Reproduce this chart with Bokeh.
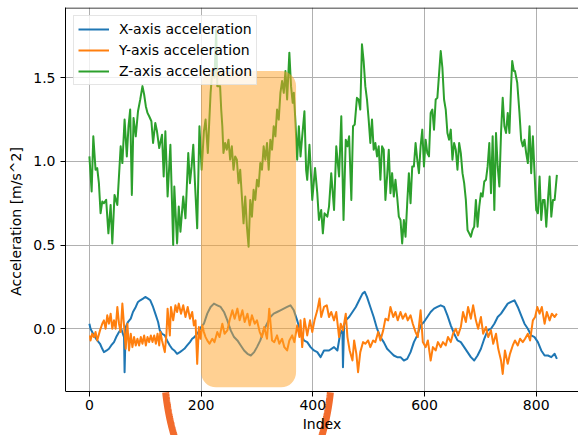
import numpy as np
from bokeh.plotting import figure
from bokeh.models import (Range1d, FixedTicker, PrintfTickFormatter, BoxAnnotation,
                          Legend, LegendItem, Span)
from bokeh.embed import file_html
from bokeh.resources import INLINE

# ---------------- data ----------------
x_idx = [0, 2, 5, 8, 14, 19, 23, 26, 31, 35, 39, 44, 48, 53, 57, 62, 63, 65, 69, 74, 78, 83, 87, 91, 96,
         100, 105, 109, 114, 118, 123, 126, 130, 135, 139, 144, 148, 152, 157, 162, 166, 170, 175, 180, 184,
         188, 195, 200, 205, 211, 217, 223, 229, 235, 241, 247, 253, 259, 265, 271, 277, 283, 289, 295, 300,
         306, 312, 318, 324, 330, 336, 342, 348, 354, 360, 366, 372, 378, 384, 390, 396, 402, 408, 414, 420,
         429, 438, 444, 449, 453, 454, 456, 459, 465, 471, 477, 483, 489, 493, 497, 503, 509, 515, 521, 527,
         533, 539, 545, 551, 557, 563, 569, 575, 581, 587, 593, 599, 605, 611, 617, 623, 629, 635, 641, 647,
         653, 659, 665, 671, 677, 683, 689, 695, 701, 707, 713, 719, 725, 731, 737, 743, 749, 755, 761, 767,
         773, 779, 785, 791, 797, 803, 809, 815, 821, 827, 833, 837]
x_acc = [0.03, 0.00, -0.02, -0.04, -0.07, -0.09, -0.12, -0.14, -0.13, -0.12, -0.10, -0.08, -0.05, -0.02, 0.00,
         -0.05, -0.26, 0.01, 0.04, 0.06, 0.10, 0.13, 0.16, 0.17, 0.18,
         0.19, 0.18, 0.17, 0.13, 0.09, 0.04, -0.01, -0.03, -0.04, -0.07, -0.10, -0.12, -0.13, -0.15, -0.14,
         -0.13, -0.12, -0.10, -0.08, -0.06,
         -0.05, -0.02, 0.01, 0.03, 0.09, 0.13, 0.15, 0.14, 0.13, 0.10, 0.05, -0.01, -0.05, -0.07, -0.10, -0.13,
         -0.15, -0.16, -0.14, -0.11,
         -0.07, -0.01, 0.03, 0.07, 0.09, 0.10, 0.11, 0.12, 0.13, 0.14, 0.11, 0.05, -0.02, -0.07, -0.08, -0.11,
         -0.13, -0.14, -0.17, -0.13,
         -0.13, -0.11, -0.13, -0.03, -0.01, -0.23, 0.02, 0.05, 0.07, 0.10, 0.13, 0.17, 0.21, 0.22, 0.19, 0.13,
         0.07, 0.00, -0.05, -0.08,
         -0.12, -0.14, -0.16, -0.17, -0.17, -0.19, -0.18, -0.14, -0.08, -0.04, 0.02, 0.04, 0.07, 0.10, 0.12,
         0.13, 0.14, 0.13, 0.08, 0.02,
         -0.03, -0.07, -0.08, -0.11, -0.14, -0.17, -0.19, -0.16, -0.12, -0.06, -0.01, 0.00, 0.03, 0.07, 0.09,
         0.12, 0.15, 0.16, 0.17, 0.13,
         0.08, 0.03, 0.00, -0.04, -0.05, -0.08, -0.13, -0.16, -0.16, -0.17, -0.15, -0.18]

y_idx = [1, 2, 5, 8, 11, 14, 19, 23, 26, 29, 32, 35, 38, 41, 44, 47, 50, 53, 56, 59, 62, 65, 68, 71, 74, 77,
         80, 83, 86, 89, 92, 95, 98, 101, 104, 107, 110, 113, 116, 119, 122, 125, 127, 130, 135, 138, 140,
         144, 146, 150, 154, 157, 160, 164, 168, 172, 176, 180, 184, 187, 190, 193, 196, 199, 202, 205, 208,
         211, 215, 220, 224, 229, 233, 238, 242, 247, 251, 256, 260, 265, 269, 274, 278, 283, 287, 291, 296,
         300, 305, 309, 313, 318, 322, 327, 331, 336, 340, 345, 349, 354, 358, 363, 367, 372, 376, 378, 381,
         385, 390, 395, 399, 403, 408, 412, 415, 420, 425, 429, 433, 438, 442, 447, 450, 454, 459, 462, 466,
         471, 474, 478, 481, 485, 490, 494, 499, 503, 508, 512, 517, 521, 526, 530, 535, 539, 544, 548, 552,
         557, 561, 566, 570, 575, 579, 584, 588, 593, 597, 602, 606, 611, 615, 620, 624, 629, 633, 638, 642,
         647, 651, 656, 660, 665, 669, 674, 678, 683, 687, 692, 696, 701, 705, 710, 714, 719, 723, 728, 732,
         737, 740, 744, 749, 753, 758, 762, 767, 771, 776, 780, 785, 789, 794, 798, 802, 806, 810, 815, 819,
         824, 828, 833, 837]
y_acc = [-0.04, -0.07, -0.03, -0.05, -0.02, -0.07, -0.01, 0.03, 0.05, 0.00, 0.08, 0.03, 0.09, 0.00, 0.05,
         0.00, 0.13, 0.03, -0.02, 0.15, 0.02, -0.12, 0.03, -0.13, -0.03, -0.11,
         -0.05, -0.10, -0.06, -0.10, -0.05, -0.09, -0.04, -0.10, -0.05, -0.08, -0.04, -0.08, -0.04, -0.09,
         -0.03, -0.10, -0.02, -0.07, -0.14, -0.03, 0.12,
         -0.04, 0.13, 0.05, 0.14, 0.10, 0.15, 0.09, 0.14, 0.07, 0.13, 0.06, 0.10, 0.02, 0.05, -0.21, 0.01,
         -0.06, 0.02, -0.02, -0.05,
         -0.07, -0.09, -0.06, -0.08, -0.02, -0.05, 0.03, -0.03, -0.01, 0.05, 0.11, 0.06, 0.12, 0.05, 0.11,
         0.04, 0.09, 0.02, 0.08, 0.03,
         0.05, -0.02, -0.05, 0.01, -0.06, 0.12, -0.07, -0.08, -0.04, -0.09, -0.06, -0.11, -0.13, -0.07, -0.04,
         -0.08, 0.02, -0.05, 0.05, -0.11,
         0.06, -0.04, 0.05, -0.02, 0.05, 0.11, 0.18, 0.07, 0.13, 0.14, 0.07, 0.10, 0.05, 0.10, -0.05, 0.03,
         -0.01, 0.09, -0.05, -0.13,
         -0.19, -0.07, -0.15, -0.26, -0.14, -0.08, -0.09, -0.07, -0.11, -0.07, -0.08, -0.02, -0.07, -0.01,
         0.06, 0.05, 0.13, 0.07, 0.10, 0.05,
         0.10, 0.06, 0.09, 0.05, 0.08, 0.03, -0.02, -0.05, 0.11, -0.08, -0.11, -0.07, -0.19, -0.11, -0.13,
         -0.08, -0.11, -0.08, -0.10, -0.05,
         -0.08, -0.03, 0.00, -0.04, 0.01, 0.10, 0.04, 0.13, 0.06, 0.14, 0.05, 0.00, 0.07, -0.03, 0.01, -0.05,
         -0.01, -0.09, -0.03, -0.12,
         -0.19, -0.27, -0.13, -0.21, -0.15, -0.10, -0.07, -0.10, -0.06, -0.08, -0.06, -0.03, -0.07, 0.05, 0.07,
         0.13, 0.09, 0.13, 0.03, 0.10,
         0.05, 0.09, 0.07, 0.09]

z_idx = [0, 4, 7, 11, 14, 17, 20, 23, 26, 30, 34, 38, 41, 45, 50, 56, 59, 63, 67, 70, 73, 76, 79, 83, 87,
         91, 95, 98, 101, 104, 107, 111, 114, 118, 121, 125, 130, 133, 136, 140, 145, 150, 152, 157, 160,
         163, 168, 172, 177, 180, 183, 186, 189, 193, 197, 201, 205, 208, 212, 217, 220, 224, 227, 229, 234,
         236, 238, 240, 243, 246, 249, 252, 255, 258, 261, 264, 267, 270, 273, 276, 279, 282, 285, 288, 291,
         294, 297, 300, 303, 306, 309, 312, 315, 318, 321, 324, 327, 330, 333, 336, 339, 342, 345, 348, 351,
         354, 358, 361, 364, 366, 369, 372, 375, 378, 381, 385, 388, 390, 394, 399, 404, 408, 411, 415, 418,
         421, 426, 429, 433, 438, 442, 447, 451, 455, 459, 462, 465, 469, 472, 475, 479, 482, 485, 488, 491,
         494, 497, 500, 503, 506, 509, 512, 515, 518, 521, 524, 527, 530, 533, 536, 539, 542, 545, 548, 551,
         554, 557, 560, 563, 566, 569, 572, 575, 578, 581, 584, 587, 590, 593, 596, 599, 602, 605, 608, 611,
         614, 617, 620, 623, 626, 629, 632, 635, 638, 641, 644, 647, 650, 653, 656, 659, 662, 665, 668, 671,
         674, 677, 680, 683, 686, 689, 692, 695, 698, 701, 704, 707, 710, 713, 716, 719, 722, 725, 728, 731,
         734, 737, 740, 743, 746, 749, 752, 755, 757, 760, 762, 766, 770, 773, 776, 779, 782, 785, 788, 791,
         794, 797, 800, 803, 806, 809, 812, 815, 818, 821, 824, 827, 830, 833, 837]
z_acc = [1.03, 0.82, 1.15, 0.95, 0.96, 0.87, 0.69, 0.76, 0.75, 0.77, 0.57, 0.74, 0.51, 0.80, 0.74, 1.09,
         0.99, 1.25, 1.03, 1.21, 1.31, 0.80, 1.26, 1.15, 1.30,
         1.37, 1.45, 1.40, 1.33, 1.29, 1.27, 1.24, 1.11, 1.23, 1.18, 1.08, 1.16, 0.91, 1.18, 0.79, 1.10, 0.50,
         0.85, 0.51, 0.73,
         0.58, 0.79, 0.66, 1.05, 0.87, 0.97, 1.10, 0.87, 0.60, 1.21, 0.95, 1.18, 1.25, 1.05, 1.41, 1.54, 1.50,
         1.79, 1.45, 1.45,
         1.31, 1.21, 1.05, 1.11, 1.07, 1.13, 1.01, 1.09, 0.95, 1.03, 1.01, 0.87, 0.95, 0.79, 0.63, 0.79, 0.61,
         0.49, 0.77, 0.67,
         0.83, 0.77, 0.89, 0.85, 0.99, 0.95, 1.09, 1.01, 1.11, 0.95, 1.13, 1.07, 1.21, 1.15, 1.31, 1.25, 1.41,
         1.48, 1.41, 1.54,
         1.37, 1.65, 1.45, 1.35, 1.41, 1.23, 1.01, 1.21, 1.03, 1.15, 1.30, 0.95, 0.89, 1.10, 0.77, 0.96, 0.81,
         0.65, 0.71, 0.57,
         0.69, 0.67, 0.73, 0.93, 0.71, 1.09, 0.91, 1.27, 0.65, 1.13, 1.09, 1.15, 0.77, 1.21, 1.22, 1.38, 1.37,
         1.31, 1.70, 1.60,
         1.45, 1.37, 1.25, 1.11, 1.25, 1.07, 1.11, 1.03, 1.09, 0.89, 1.09, 1.07, 0.77, 0.91, 1.07, 0.81, 0.93,
         0.79, 0.89, 0.79,
         0.67, 0.65, 0.51, 0.65, 0.55, 0.75, 0.93, 0.75, 0.97, 0.97, 1.11, 1.01, 0.93, 1.09, 1.19, 0.97, 1.13,
         1.05, 1.03, 1.29,
         1.31, 1.19, 1.37, 1.38, 1.52, 1.66, 1.56, 1.37, 1.31, 1.17, 1.13, 1.19, 1.01, 1.11, 1.07, 0.95, 1.11,
         1.05, 0.93, 0.87,
         0.77, 0.59, 0.57, 0.55, 0.59, 0.61, 0.77, 0.61, 0.73, 0.81, 0.79, 0.88, 0.89, 0.97, 1.11, 0.81, 1.15,
         0.71, 1.17, 0.97,
         0.85, 1.17, 1.38, 1.21, 1.17, 1.29, 1.17, 1.45, 1.60, 1.54, 1.54, 1.47, 1.29, 1.13, 1.09, 1.13, 1.05,
         0.99, 1.21, 0.93,
         1.15, 0.93, 0.71, 0.69, 0.91, 0.65, 0.77, 0.77, 0.61, 0.77, 0.91, 0.67, 0.77, 0.77, 0.92]

series_labels = ["X-axis acceleration", "Y-axis acceleration", "Z-axis acceleration"]
x_ticks = [0, 200, 400, 600, 800]
y_ticks = [0.0, 0.5, 1.0, 1.5]

# axes limits of the data area
x_lo, x_hi = -42.8, 875.7
y_lo, y_hi = -0.375, 1.920
# highlighted span (index range and value range)
hl_left, hl_right, hl_bottom, hl_top = 200, 370, -0.35, 1.54
# hand-drawn ellipse mark around the highlighted span (hidden inside the axes)
ell_cx, ell_cy, ell_a, ell_b = 284, -0.216, 150, 0.897

# ---------------- figure ----------------
FONT = "DejaVu Sans"
# the frame reaches the bottom of the canvas, so the mark below the axes can be drawn;
# the x axis is pinned at y_lo
y_canvas_bottom = y_hi - 428 / 167.3
p = figure(width=578, height=435, x_range=Range1d(x_lo, x_hi), y_range=Range1d(y_canvas_bottom, y_hi),
           output_backend="svg", toolbar_location=None,
           min_border_left=65, min_border_right=0, min_border_top=7, min_border_bottom=0)
p.outline_line_color = None
p.background_fill_color = "white"
p.border_fill_color = "white"

p.xgrid.ticker = FixedTicker(ticks=x_ticks)
p.ygrid.ticker = FixedTicker(ticks=y_ticks)
for g in (p.xgrid[0], p.ygrid[0]):
    g.grid_line_color = "#b0b0b0"
    g.grid_line_width = 1

# white cover below the axes (hides the grid there)
p.add_layout(BoxAnnotation(bottom=y_canvas_bottom - 1, top=y_lo, fill_color="white", fill_alpha=1.0,
                           line_color=None, level="underlay"))

colors = ["#1f77b4", "#ff7f0e", "#2ca02c"]
rx = p.line(x_idx, x_acc, line_color=colors[0], line_width=2, line_join="round")
ry = p.line(y_idx, y_acc, line_color=colors[1], line_width=2, line_join="round")
rz = p.line(z_idx, z_acc, line_color=colors[2], line_width=2, line_join="round")

# ellipse arcs visible below the axes
for side in (-1, 1):
    t0 = np.arcsin((y_lo - 0.006 - ell_cy) / ell_b)
    t1 = np.arcsin((y_canvas_bottom - 0.05 - ell_cy) / ell_b)
    t = np.linspace(t0, t1, 40)
    p.line(ell_cx + side * ell_a * np.cos(t), ell_cy + ell_b * np.sin(t),
           line_color="#F26B2C", line_width=7, line_cap="butt")

for ax in (p.xaxis[0], p.yaxis[0]):
    ax.axis_line_color = "black"
    ax.axis_line_width = 1
    ax.major_tick_line_color = "black"
    ax.major_tick_out = 5
    ax.major_tick_in = 0
    ax.minor_tick_line_color = None
    ax.major_label_text_font = FONT
    ax.major_label_text_font_size = "14px"
    ax.major_label_text_color = "black"
    ax.axis_label_text_font = FONT
    ax.axis_label_text_font_size = "14px"
    ax.axis_label_text_font_style = "normal"
    ax.axis_label_text_color = "black"

p.xaxis.fixed_location = y_lo
p.yaxis.bounds = (y_lo, y_hi)
p.xaxis.ticker = FixedTicker(ticks=x_ticks)
p.yaxis.ticker = FixedTicker(ticks=y_ticks)
p.yaxis.formatter = PrintfTickFormatter(format="%.1f")
p.xaxis.axis_label = "Index"
p.yaxis.axis_label = "Acceleration [m/s^2]"
p.xaxis.major_label_standoff = 4
p.xaxis.axis_label_standoff = 2
p.yaxis.major_label_standoff = 5
p.yaxis.axis_label_standoff = 6

# top spine
p.add_layout(Span(location=y_hi - 0.003, dimension="width", line_color="black", line_width=1))

# highlight box
p.add_layout(BoxAnnotation(left=hl_left, right=hl_right, bottom=hl_bottom, top=hl_top,
                           fill_color="#FFA126", fill_alpha=0.5, line_color=None,
                           border_radius=15))

legend = Legend(items=[LegendItem(label=series_labels[0], renderers=[rx]),
                       LegendItem(label=series_labels[1], renderers=[ry]),
                       LegendItem(label=series_labels[2], renderers=[rz])],
                location="top_left", margin=8, padding=4, spacing=3,
                glyph_height=18, glyph_width=31, label_standoff=10, label_height=18,
                label_text_font=FONT, label_text_font_size="14px", label_text_color="black",
                border_line_color="#cccccc", border_line_width=1,
                background_fill_color="white", background_fill_alpha=0.8)
p.add_layout(legend)

open("out.html", "w").write(file_html(p, INLINE))
